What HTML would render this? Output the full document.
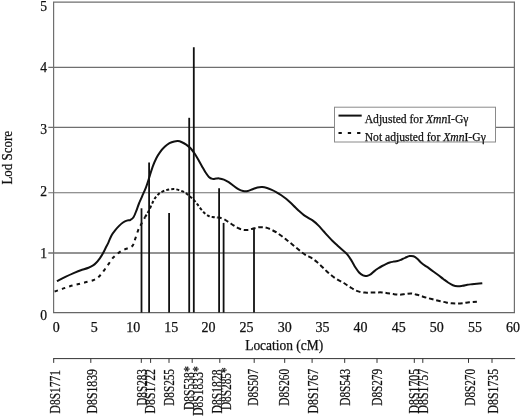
<!DOCTYPE html>
<html><head><meta charset="utf-8"><title>Lod Score</title>
<style>html,body{margin:0;padding:0;background:#fff}svg{display:block}text{font-family:"Liberation Serif","Times New Roman",serif;fill:#111;stroke:#111;stroke-width:0.25px}</style></head>
<body>
<svg width="520" height="418" viewBox="0 0 520 418">
<rect width="520" height="418" fill="#fff"/>
<line x1="48.3" x2="514.4" y1="67.4" y2="67.4" stroke="#6f6f6f" stroke-width="1.1"/>
<line x1="48.3" x2="514.4" y1="127.4" y2="127.4" stroke="#6f6f6f" stroke-width="1.1"/>
<line x1="48.3" x2="514.4" y1="192.7" y2="192.7" stroke="#6f6f6f" stroke-width="1.1"/>
<line x1="48.3" x2="514.4" y1="253.0" y2="253.0" stroke="#6f6f6f" stroke-width="1.5"/>
<path d="M53.6 312.6V2.2H514.4V312.6" fill="none" stroke="#6f6f6f" stroke-width="1.2"/>
<line x1="53" x2="515" y1="312.6" y2="312.6" stroke="#666" stroke-width="1.4"/>
<line x1="141.5" x2="141.5" y1="208.3" y2="312.6" stroke="#111" stroke-width="1.8"/>
<line x1="149.1" x2="149.1" y1="162.6" y2="312.6" stroke="#111" stroke-width="1.8"/>
<line x1="169.1" x2="169.1" y1="213.0" y2="312.6" stroke="#111" stroke-width="1.8"/>
<line x1="189.2" x2="189.2" y1="117.8" y2="312.6" stroke="#111" stroke-width="1.8"/>
<line x1="193.8" x2="193.8" y1="47.2" y2="312.6" stroke="#111" stroke-width="1.8"/>
<line x1="219.1" x2="219.1" y1="188.2" y2="312.6" stroke="#111" stroke-width="1.8"/>
<line x1="223.6" x2="223.6" y1="222.9" y2="312.6" stroke="#111" stroke-width="1.8"/>
<line x1="254.0" x2="254.0" y1="228.2" y2="312.6" stroke="#111" stroke-width="1.8"/>
<path d="M56.9 281.2C58.3 280.5 62.7 278.2 65.4 276.9C68.1 275.6 70.5 274.5 73.1 273.4C75.7 272.3 78.2 271.2 80.8 270.3C83.4 269.4 86.5 268.5 88.5 267.7C90.5 266.9 91.8 266.2 93.1 265.4C94.4 264.6 95.2 263.8 96.2 262.8C97.2 261.8 98.2 260.6 99.2 259.2C100.2 257.8 101.3 256.4 102.3 254.6C103.3 252.8 104.4 250.6 105.4 248.5C106.4 246.4 107.5 244.5 108.5 242.3C109.5 240.1 110.4 237.5 111.5 235.5C112.6 233.5 114.0 231.7 115.3 230.1C116.6 228.5 117.8 227.2 119.1 225.9C120.4 224.6 121.7 223.4 123.0 222.5C124.3 221.6 125.5 221.0 126.8 220.6C128.1 220.2 129.5 220.4 130.6 219.8C131.7 219.2 132.5 218.8 133.5 217.3C134.5 215.8 135.5 213.0 136.4 210.6C137.3 208.2 138.2 205.4 139.2 203.0C140.1 200.6 141.0 198.9 142.1 196.3C143.2 193.8 144.7 190.8 145.9 187.7C147.1 184.6 148.0 181.5 149.1 178.0C150.2 174.5 151.5 170.0 152.7 166.7C153.9 163.4 155.1 160.7 156.3 158.3C157.5 155.9 158.5 154.2 159.9 152.3C161.3 150.4 163.1 148.3 164.7 146.8C166.3 145.3 167.9 144.1 169.5 143.2C171.1 142.3 172.9 141.8 174.3 141.5C175.7 141.2 176.6 141.0 177.8 141.1C179.0 141.2 180.0 141.4 181.4 142.0C182.8 142.6 184.6 143.5 186.2 144.6C187.8 145.7 189.6 147.2 191.0 148.7C192.4 150.2 193.4 151.7 194.6 153.5C195.8 155.3 197.0 157.4 198.2 159.5C199.4 161.6 200.6 163.8 201.8 165.9C203.0 168.0 204.2 170.4 205.4 172.2C206.6 174.0 207.7 175.8 208.9 176.9C210.1 178.0 211.3 178.6 212.5 178.9C213.7 179.2 215.0 178.7 216.1 178.6C217.2 178.5 217.8 178.2 219.1 178.4C220.4 178.6 222.3 179.0 223.9 179.6C225.5 180.2 227.1 181.2 228.7 182.2C230.3 183.2 231.9 184.6 233.5 185.8C235.1 187.0 236.7 188.3 238.3 189.2C239.9 190.1 241.5 190.8 243.1 191.1C244.7 191.4 246.2 191.4 247.8 191.1C249.4 190.8 251.0 189.8 252.6 189.2C254.2 188.6 255.8 187.9 257.4 187.5C259.0 187.1 260.6 186.9 262.2 187.0C263.8 187.1 265.4 187.5 267.0 188.0C268.6 188.5 270.2 189.2 271.8 189.9C273.4 190.6 275.0 191.4 276.6 192.3C278.2 193.2 279.7 194.1 281.3 195.2C282.9 196.3 284.5 197.5 286.1 198.8C287.7 200.1 289.3 201.6 290.9 203.1C292.5 204.6 294.3 206.5 295.7 207.8C297.1 209.1 297.7 209.9 299.1 211.1C300.5 212.3 302.3 213.9 303.9 215.1C305.5 216.3 307.1 217.2 308.7 218.2C310.3 219.2 311.9 219.9 313.5 221.1C315.1 222.3 316.7 223.8 318.3 225.4C319.9 227.0 321.5 228.9 323.1 230.7C324.7 232.4 326.2 234.2 327.8 235.9C329.4 237.6 331.0 239.4 332.6 241.0C334.2 242.6 335.8 244.0 337.4 245.5C339.0 247.0 340.6 248.4 342.2 249.8C343.8 251.2 345.4 252.3 347.0 254.1C348.6 255.9 350.1 258.4 351.5 260.6C352.9 262.8 354.0 265.3 355.3 267.3C356.6 269.3 357.8 271.1 359.1 272.5C360.4 273.9 361.7 274.8 363.0 275.4C364.3 276.0 365.5 276.1 366.8 275.9C368.1 275.7 369.3 275.2 370.6 274.4C371.9 273.6 373.1 272.1 374.4 271.1C375.7 270.1 377.0 269.2 378.3 268.3C379.6 267.4 380.8 266.7 382.1 266.0C383.4 265.3 384.6 264.7 385.9 264.1C387.2 263.5 388.5 262.9 389.8 262.5C391.1 262.1 392.3 261.9 393.6 261.6C394.9 261.4 396.1 261.3 397.4 261.0C398.7 260.7 399.9 260.2 401.2 259.7C402.5 259.2 403.7 258.4 405.1 257.8C406.5 257.2 408.2 256.2 409.6 256.0C411.0 255.8 412.2 255.8 413.5 256.3C414.8 256.8 416.0 257.7 417.3 258.8C418.6 259.9 419.9 261.6 421.2 262.7C422.5 263.8 423.7 264.7 425.0 265.6C426.3 266.5 427.4 267.1 428.8 268.1C430.2 269.1 432.1 270.5 433.7 271.7C435.3 272.9 436.9 274.0 438.5 275.2C440.1 276.4 441.7 277.8 443.3 279.0C444.9 280.2 446.5 281.5 448.1 282.5C449.7 283.5 451.3 284.6 452.9 285.2C454.5 285.8 456.1 286.1 457.7 286.2C459.3 286.3 460.9 286.0 462.5 285.8C464.1 285.6 465.7 285.1 467.3 284.8C468.9 284.5 470.5 284.4 472.1 284.2C473.7 284.0 475.2 283.9 476.9 283.8C478.6 283.7 481.4 283.4 482.3 283.3" fill="none" stroke="#111" stroke-width="2" stroke-linejoin="round"/>
<path d="M54.6 291.5C55.9 291.1 59.7 289.8 62.3 288.9C64.9 288.0 67.4 287.0 70.0 286.2C72.6 285.4 75.1 284.9 77.7 284.3C80.3 283.7 82.8 283.0 85.4 282.3C88.0 281.6 91.0 281.1 93.1 280.3C95.1 279.5 96.3 278.8 97.7 277.7C99.1 276.6 100.2 275.3 101.5 273.8C102.8 272.3 104.1 270.3 105.4 268.5C106.7 266.7 107.9 264.9 109.2 263.1C110.5 261.3 111.8 259.2 113.1 257.7C114.4 256.2 115.9 255.1 117.2 254.0C118.5 252.9 119.7 252.0 121.0 251.2C122.3 250.4 123.6 249.9 124.9 249.3C126.2 248.8 127.6 248.4 128.7 247.9C129.8 247.4 130.8 247.2 131.6 246.6C132.4 246.0 132.9 245.5 133.5 244.1C134.1 242.7 134.6 240.8 135.4 238.4C136.2 236.0 137.4 232.1 138.3 229.8C139.2 227.5 140.0 226.5 141.1 224.4C142.2 222.3 143.9 219.3 145.0 217.3" fill="none" stroke="#111" stroke-width="2" stroke-dasharray="3.5 4.2" stroke-linejoin="round"/>
<path d="M145.0 217.3C146.1 215.3 146.9 214.2 147.8 212.5C148.8 210.8 149.7 208.8 150.7 206.8C151.7 204.8 152.7 202.2 153.6 200.5C154.5 198.8 155.2 197.8 156.3 196.6C157.4 195.3 158.5 194.0 159.9 193.0C161.3 192.0 163.1 191.2 164.7 190.6C166.3 190.0 167.9 189.7 169.5 189.4C171.1 189.2 172.7 189.0 174.3 189.1C175.9 189.2 177.4 189.6 179.0 190.1C180.6 190.6 182.4 191.2 183.8 191.9C185.2 192.6 186.3 193.5 187.5 194.4C188.7 195.3 190.0 196.5 191.2 197.5C192.3 198.5 193.3 199.4 194.4 200.6C195.5 201.8 196.4 202.9 197.5 204.4C198.6 205.9 199.9 207.9 201.2 209.4C202.4 210.9 203.7 212.4 205.0 213.5C206.3 214.6 207.6 215.4 208.8 216.0C210.1 216.6 211.1 216.8 212.5 217.0C213.9 217.2 216.2 217.4 217.3 217.5" fill="none" stroke="#111" stroke-width="2" stroke-dasharray="3 2.1" stroke-linejoin="round"/>
<path d="M217.3 217.5C218.4 217.6 218.0 217.3 219.1 217.6C220.2 217.9 222.3 218.3 223.9 219.1C225.5 219.9 227.1 221.2 228.7 222.2C230.3 223.2 231.9 224.3 233.5 225.3C235.1 226.3 236.7 227.4 238.3 228.2C239.9 229.0 241.5 229.6 243.1 229.9C244.7 230.2 246.2 230.1 247.8 229.9C249.4 229.7 251.0 229.1 252.6 228.7C254.2 228.3 255.8 227.8 257.4 227.5C259.0 227.2 260.6 227.1 262.2 227.2C263.8 227.3 265.4 227.4 267.0 227.9C268.6 228.4 270.2 229.1 271.8 229.9C273.4 230.7 275.0 231.5 276.6 232.5C278.2 233.5 279.7 234.7 281.3 235.8C282.9 237.0 284.5 238.2 286.1 239.4C287.7 240.7 289.1 241.9 290.9 243.3C292.7 244.8 294.9 246.6 296.7 248.1C298.5 249.6 299.9 251.0 301.5 252.2C303.1 253.4 304.7 254.4 306.3 255.3C307.9 256.2 309.5 256.7 311.1 257.7C312.7 258.7 314.3 259.8 315.9 261.1C317.5 262.4 319.1 263.9 320.7 265.4C322.3 266.9 323.9 268.6 325.5 270.1C327.1 271.6 328.6 273.1 330.2 274.4C331.8 275.7 333.4 276.9 335.0 278.0C336.6 279.1 338.3 280.1 339.8 280.9C341.3 281.7 342.5 282.2 343.8 283.0C345.1 283.8 346.4 284.7 347.7 285.5C349.0 286.3 350.2 287.2 351.5 288.0C352.8 288.8 354.0 289.7 355.3 290.3C356.6 290.9 357.5 291.2 359.1 291.6C360.7 292.0 363.0 292.4 364.9 292.6C366.8 292.8 368.7 292.6 370.6 292.6C372.5 292.6 374.5 292.4 376.4 292.4C378.3 292.4 380.2 292.3 382.1 292.4C384.0 292.5 385.9 292.9 387.8 293.2C389.7 293.5 391.7 293.9 393.6 294.1C395.5 294.4 397.3 294.7 399.3 294.7C401.3 294.7 403.8 294.2 405.8 294.0C407.8 293.8 409.6 293.4 411.5 293.5C413.4 293.6 415.4 294.3 417.3 294.8C419.2 295.3 421.2 296.1 423.1 296.7C425.0 297.3 426.9 297.8 428.8 298.3C430.7 298.8 432.7 299.3 434.6 299.8C436.5 300.3 438.5 300.8 440.4 301.2C442.3 301.6 444.3 302.1 446.2 302.5C448.1 302.9 450.0 303.1 451.9 303.3C453.8 303.5 455.8 303.5 457.7 303.5C459.6 303.5 461.6 303.3 463.5 303.1C465.4 302.9 467.0 302.5 469.2 302.3C471.4 302.1 475.6 301.8 476.9 301.7" fill="none" stroke="#111" stroke-width="2" stroke-dasharray="4.6 2.8" stroke-linejoin="round"/>
<rect x="334.5" y="107.2" width="161" height="34.8" fill="#fff" stroke="#8a8a8a" stroke-width="1"/>
<line x1="338.5" x2="361.7" y1="115.6" y2="115.6" stroke="#111" stroke-width="2"/>
<line x1="338.5" x2="361.7" y1="132.9" y2="132.9" stroke="#111" stroke-width="2" stroke-dasharray="3.3 6"/>
<text x="364.7" y="122.8" font-size="12" textLength="103.8" lengthAdjust="spacingAndGlyphs">Adjusted for <tspan font-style="italic">Xmn</tspan>I-Gγ</text>
<text x="364.7" y="141" font-size="12" textLength="121.1" lengthAdjust="spacingAndGlyphs">Not adjusted for <tspan font-style="italic">Xmn</tspan>I-Gγ</text>
<text x="47" y="10.9" font-size="13.6" text-anchor="end">5</text>
<text x="47" y="71.9" font-size="13.6" text-anchor="end">4</text>
<text x="47" y="134.0" font-size="13.6" text-anchor="end">3</text>
<text x="47" y="196.0" font-size="13.6" text-anchor="end">2</text>
<text x="47" y="257.9" font-size="13.6" text-anchor="end">1</text>
<text x="47" y="319.5" font-size="13.6" text-anchor="end">0</text>
<text x="56.3" y="331.6" font-size="14" text-anchor="middle">0</text>
<text x="94.3" y="331.6" font-size="14" text-anchor="middle">5</text>
<text x="133.3" y="331.6" font-size="14" text-anchor="middle">10</text>
<text x="171.2" y="331.6" font-size="14" text-anchor="middle">15</text>
<text x="208.5" y="331.6" font-size="14" text-anchor="middle">20</text>
<text x="246.4" y="331.6" font-size="14" text-anchor="middle">25</text>
<text x="284.7" y="331.6" font-size="14" text-anchor="middle">30</text>
<text x="322.5" y="331.6" font-size="14" text-anchor="middle">35</text>
<text x="360.6" y="331.6" font-size="14" text-anchor="middle">40</text>
<text x="398.7" y="331.6" font-size="14" text-anchor="middle">45</text>
<text x="436.7" y="331.6" font-size="14" text-anchor="middle">50</text>
<text x="475.0" y="331.6" font-size="14" text-anchor="middle">55</text>
<text x="513.0" y="331.6" font-size="14" text-anchor="middle">60</text>
<text x="245.2" y="350" font-size="13.9" textLength="78" lengthAdjust="spacingAndGlyphs">Location (cM)</text>
<text transform="translate(12.2 184.6) rotate(-90)" font-size="14" textLength="53.6" lengthAdjust="spacingAndGlyphs">Lod Score</text>
<line x1="53.2" x2="515.1" y1="358.6" y2="358.6" stroke="#333" stroke-width="1"/>
<line x1="53.7" x2="53.7" y1="358.6" y2="362.9" stroke="#333" stroke-width="1"/>
<line x1="90.8" x2="90.8" y1="358.6" y2="362.9" stroke="#333" stroke-width="1"/>
<line x1="141.3" x2="141.3" y1="358.6" y2="362.9" stroke="#333" stroke-width="1"/>
<line x1="150.6" x2="150.6" y1="358.6" y2="362.9" stroke="#333" stroke-width="1"/>
<line x1="169.0" x2="169.0" y1="358.6" y2="362.9" stroke="#333" stroke-width="1"/>
<line x1="192.2" x2="192.2" y1="358.6" y2="362.9" stroke="#333" stroke-width="1"/>
<line x1="219.8" x2="219.8" y1="358.6" y2="362.9" stroke="#333" stroke-width="1"/>
<line x1="254.2" x2="254.2" y1="358.6" y2="362.9" stroke="#333" stroke-width="1"/>
<line x1="284.7" x2="284.7" y1="358.6" y2="362.9" stroke="#333" stroke-width="1"/>
<line x1="312.1" x2="312.1" y1="358.6" y2="362.9" stroke="#333" stroke-width="1"/>
<line x1="344.7" x2="344.7" y1="358.6" y2="362.9" stroke="#333" stroke-width="1"/>
<line x1="377.0" x2="377.0" y1="358.6" y2="362.9" stroke="#333" stroke-width="1"/>
<line x1="414.3" x2="414.3" y1="358.6" y2="362.9" stroke="#333" stroke-width="1"/>
<line x1="422.8" x2="422.8" y1="358.6" y2="362.9" stroke="#333" stroke-width="1"/>
<line x1="468.5" x2="468.5" y1="358.6" y2="362.9" stroke="#333" stroke-width="1"/>
<line x1="492.0" x2="492.0" y1="358.6" y2="362.9" stroke="#333" stroke-width="1"/>
<text transform="translate(60.2 413.4) rotate(-90)" font-size="13.7" textLength="43.4" lengthAdjust="spacingAndGlyphs">D8S1771</text>
<text transform="translate(96.5 413.4) rotate(-90)" font-size="13.7" textLength="44.4" lengthAdjust="spacingAndGlyphs">D8S1839</text>
<text transform="translate(147.3 405.7) rotate(-90)" font-size="13.7" textLength="36.6" lengthAdjust="spacingAndGlyphs">D8S283</text>
<text transform="translate(155.4 413.4) rotate(-90)" font-size="13.7" textLength="44.3" lengthAdjust="spacingAndGlyphs">D8S1722</text>
<text transform="translate(174.2 405.7) rotate(-90)" font-size="13.7" textLength="36.6" lengthAdjust="spacingAndGlyphs">D8S255</text>
<text transform="translate(193.5 410.1) rotate(-90)" font-size="13.7" textLength="43.8" lengthAdjust="spacingAndGlyphs">D8S538*</text>
<text transform="translate(202.7 415.8) rotate(-90)" font-size="13.7" textLength="49.5" lengthAdjust="spacingAndGlyphs">D8S1833*</text>
<text transform="translate(221.7 413.4) rotate(-90)" font-size="13.7" textLength="43.9" lengthAdjust="spacingAndGlyphs">D8S1828</text>
<text transform="translate(230.7 410.1) rotate(-90)" font-size="13.7" textLength="42.7" lengthAdjust="spacingAndGlyphs">D8S285*</text>
<text transform="translate(258.4 405.7) rotate(-90)" font-size="13.7" textLength="36.8" lengthAdjust="spacingAndGlyphs">D8S507</text>
<text transform="translate(289.4 405.7) rotate(-90)" font-size="13.7" textLength="36.8" lengthAdjust="spacingAndGlyphs">D8S260</text>
<text transform="translate(318.4 413.4) rotate(-90)" font-size="13.7" textLength="44.5" lengthAdjust="spacingAndGlyphs">D8S1767</text>
<text transform="translate(349.8 405.7) rotate(-90)" font-size="13.7" textLength="36.8" lengthAdjust="spacingAndGlyphs">D8S543</text>
<text transform="translate(382.2 405.7) rotate(-90)" font-size="13.7" textLength="36.8" lengthAdjust="spacingAndGlyphs">D8S279</text>
<text transform="translate(419.4 413.4) rotate(-90)" font-size="13.7" textLength="44.5" lengthAdjust="spacingAndGlyphs">D8S1705</text>
<text transform="translate(428.0 413.4) rotate(-90)" font-size="13.7" textLength="44.5" lengthAdjust="spacingAndGlyphs">D8S1757</text>
<text transform="translate(474.7 405.7) rotate(-90)" font-size="13.7" textLength="36.8" lengthAdjust="spacingAndGlyphs">D8S270</text>
<text transform="translate(497.5 413.4) rotate(-90)" font-size="13.7" textLength="44.5" lengthAdjust="spacingAndGlyphs">D8S1735</text>
</svg>
</body></html>
